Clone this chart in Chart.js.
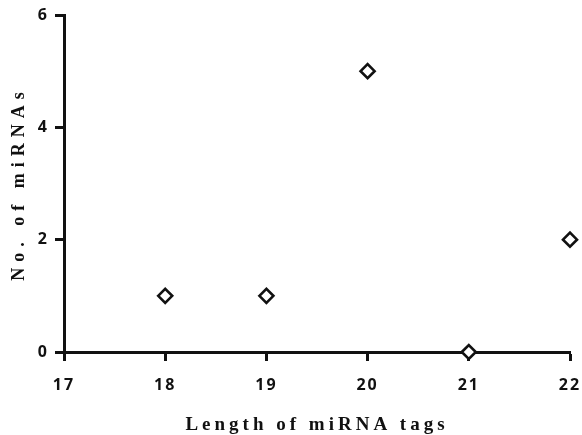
<!DOCTYPE html>
<html>
<head>
<meta charset="utf-8">
<script src="https://cdn.jsdelivr.net/npm/chart.js@4/dist/chart.umd.min.js"></script>
<style>
html,body{margin:0;padding:0;background:#fff;}
#wrap{width:582px;height:435px;position:relative;}
</style>
</head>
<body>
<div id="wrap"><canvas id="c" width="582" height="435"></canvas></div>
<script>
const tagLengths = [18, 19, 20, 21, 22];
const mirnaCounts = [1, 1, 5, 0, 2];
const xTicks = [17, 18, 19, 20, 21, 22];
const yTicks = [0, 2, 4, 6];
const xTitle = 'Length of miRNA tags';
const yTitle = 'No. of miRNAs';

const points = tagLengths.map((x, i) => ({x: x, y: mirnaCounts[i]}));

function patchScale(s, tickSp, titleSp) {
  if (s._patched) return;
  s._patched = true;
  const origTitle = s.drawTitle, origLabels = s.drawLabels;
  s.drawTitle = function () { const c = this.ctx; const p = c.letterSpacing; c.letterSpacing = titleSp; origTitle.apply(this, arguments); c.letterSpacing = p; };
  s.drawLabels = function () { const c = this.ctx; const p = c.letterSpacing; c.letterSpacing = tickSp; origLabels.apply(this, arguments); c.letterSpacing = p; };
}

new Chart(document.getElementById('c'), {
  type: 'scatter',
  data: {
    datasets: [{
      data: points,
      pointStyle: 'rectRot',
      radius: 7,
      hoverRadius: 7,
      borderWidth: 2.6,
      borderColor: '#111',
      backgroundColor: '#fff',
      clip: false
    }]
  },
  options: {
    responsive: false,
    animation: false,
    layout: {padding: {top: 15, right: 12, left: 0, bottom: 0}},
    plugins: {legend: {display: false}, tooltip: {enabled: false}},
    scales: {
      x: {
        type: 'linear',
        min: 17, max: 22,
        afterBuildTicks(s) { s.ticks = xTicks.map(v => ({value: v})); },
        afterFit(s) { s.height = 83; s.paddingRight = 0; s.paddingLeft = 0; patchScale(s, '2px', '4px'); },
        border: {display: true, color: '#111', width: 3},
        grid: {drawOnChartArea: false, tickLength: 9, tickWidth: 3, tickColor: '#111'},
        ticks: {color: '#111', padding: 15, font: {family: 'Open Sans', size: 16, weight: 'bold'}},
        title: {display: true, text: xTitle, color: '#111', padding: {top: 0, bottom: 0},
                font: {family: 'Liberation Serif', size: 19, weight: 'bold', lineHeight: 1.0}}
      },
      y: {
        type: 'linear',
        min: 0, max: 6,
        afterBuildTicks(s) { s.ticks = yTicks.map(v => ({value: v})); },
        afterFit(s) { s.width = 64; s.paddingTop = 0; s.paddingBottom = 0; patchScale(s, '2px', '6px'); },
        border: {display: true, color: '#111', width: 3},
        grid: {drawOnChartArea: false, tickLength: 9, tickWidth: 3, tickColor: '#111'},
        ticks: {color: '#111', padding: 6, font: {family: 'Open Sans', size: 16, weight: 'bold'}},
        title: {display: true, text: yTitle, color: '#111', padding: {top: 10, bottom: 0},
                font: {family: 'Liberation Serif', size: 18, weight: 'bold', lineHeight: 1.0}}
      }
    }
  }
});
</script>
</body>
</html>
